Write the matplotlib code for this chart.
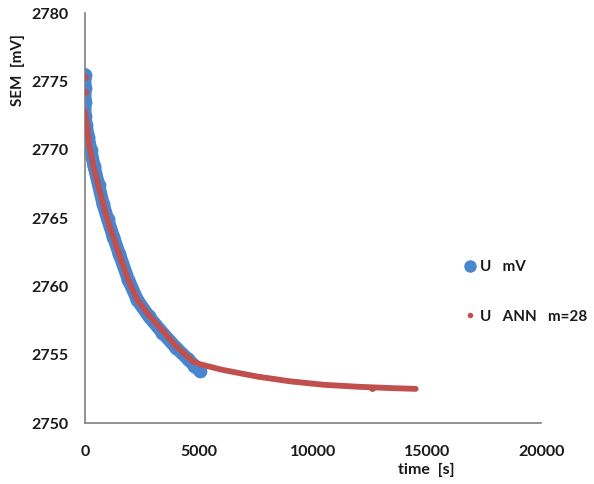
import matplotlib
matplotlib.use("Agg")
import matplotlib.pyplot as plt
from matplotlib.lines import Line2D

# measured SEM signal (blue band)
t_meas = [0, 0, 0, 0, 50, 150, 250, 400, 600, 800, 1000, 1250, 1500, 1900,
          2300, 2800, 3400, 4000, 4500, 4800, 5050]
u_meas = [2775.5, 2774.5, 2773.5, 2772.5, 2771.8, 2770.9, 2770.0, 2768.8, 2767.4,
          2766.0, 2764.9, 2763.6, 2762.4, 2760.5, 2759.0, 2757.8, 2756.6, 2755.5,
          2754.7, 2754.2, 2753.8]

# ANN prediction m=28 (red line)
t_ann = [0, 100, 200, 400, 660, 900, 1100, 1450, 1890, 2300, 2800, 3380, 4000,
         4740, 5050, 6000, 7550, 9000, 10450, 12000, 13500, 14500]
u_ann = [2772.8, 2771.6, 2770.3, 2768.6, 2766.9, 2765.4, 2764.3, 2762.6, 2760.5,
         2759.0, 2757.9, 2756.8, 2755.6, 2754.5, 2754.3, 2753.9, 2753.4, 2753.05,
         2752.8, 2752.65, 2752.55, 2752.5]

# isolated ANN points
t_ann_pts = [0, 20, 12600]
u_ann_pts = [2775.3, 2774.2, 2752.55]

blue = '#4A86D0'
red = '#C0504D'

plt.rcParams['font.family'] = ['Lato', 'DejaVu Sans']

fig = plt.figure(figsize=(5.94, 4.84), dpi=100)
ax = fig.add_axes([0.143, 0.126, 0.768, 0.847])

ax.plot(t_meas, u_meas, color=blue, linewidth=9.5, solid_capstyle='round',
        solid_joinstyle='round', marker='o', markersize=10, markeredgewidth=0, zorder=2)
ax.plot(t_ann, u_ann, color=red, linewidth=4.2, solid_capstyle='round',
        solid_joinstyle='round', zorder=3)
ax.plot(t_ann_pts, u_ann_pts, 'o', color=red, markersize=5, markeredgewidth=0, zorder=4)

ax.set_xlim(0, 20000)
ax.set_ylim(2750, 2780)
ax.set_xticks([0, 5000, 10000, 15000, 20000])
ax.set_yticks([2750, 2755, 2760, 2765, 2770, 2775, 2780])
ax.tick_params(length=0, labelsize=11.5, colors='#1a1a1a')
ax.tick_params(axis='y', pad=12)
ax.tick_params(axis='x', pad=16)
for lbl in ax.get_xticklabels() + ax.get_yticklabels():
    lbl.set_fontweight('bold')

for s in ['top', 'right']:
    ax.spines[s].set_visible(False)
for s in ['left', 'bottom']:
    ax.spines[s].set_color('#808080')
    ax.spines[s].set_linewidth(1.2)

fig.text(0.03, 0.855, 'SEM  [mV]', rotation=90, ha='center', va='center',
         fontsize=11, fontweight='bold', color='#1a1a1a')
fig.text(0.765, 0.03, 'time  [s]', ha='right', va='center',
         fontsize=11.5, fontweight='bold', color='#1a1a1a')

handles = [Line2D([], [], marker='o', linestyle='none', color=blue, markersize=9, markeredgewidth=0),
           Line2D([], [], marker='o', linestyle='none', color=red, markersize=4, markeredgewidth=0)]
leg = ax.legend(handles, ['U   mV', 'U   ANN   m=28'], loc='upper left',
                bbox_to_anchor=(0.80, 0.43), frameon=False, handlelength=0.8,
                handletextpad=0.3, labelspacing=2.3, prop={'weight': 'bold', 'size': 11})
for txt in leg.get_texts():
    txt.set_color('#1a1a1a')

fig.savefig('out.png', dpi=100)
